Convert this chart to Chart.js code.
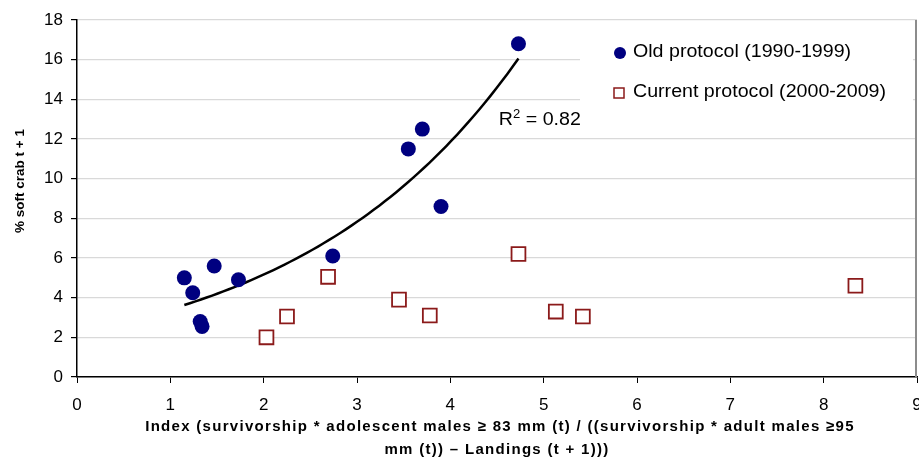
<!DOCTYPE html>
<html>
<head>
<meta charset="utf-8">
<script src="https://cdn.jsdelivr.net/npm/chart.js@4.4.1/dist/chart.umd.min.js"></script>
<style>
  html, body { margin: 0; padding: 0; background: #ffffff; overflow: hidden; }
  #chart { display: block; }
</style>
</head>
<body>
<canvas id="chart" width="919" height="459"></canvas>
<script>
// old protocol (1990-1999)
const oldX = [1.15, 1.24, 1.47, 1.73, 1.32, 1.34, 2.74, 3.55, 3.70, 3.90, 4.73];
const oldY = [5.0, 4.25, 5.6, 4.9, 2.8, 2.55, 6.1, 11.5, 12.5, 8.6, 16.8];
// current protocol (2000-2009)
const curX = [2.03, 2.25, 2.69, 3.45, 3.78, 4.73, 5.13, 5.42, 8.34];
const curY = [2.0, 3.05, 5.05, 3.9, 3.1, 6.2, 3.3, 3.05, 4.6];

const xTicks = [0, 1, 2, 3, 4, 5, 6, 7, 8, 9];
const yTicks = [0, 2, 4, 6, 8, 10, 12, 14, 16, 18];

const seriesLabels = ['Old protocol (1990-1999)', 'Current protocol (2000-2009)'];
const xTitle = ['Index (survivorship * adolescent males \u2265 83 mm (t) / ((survivorship * adult males \u226595',
                'mm (t)) \u2013 Landings (t + 1)))'];
const yTitle = '% soft crab t + 1';
const r2Text = '0.82';

// exponential trendline fitted on old protocol (least squares on ln y, like excel)
function expFit(xs, ys) {
    const n = xs.length;
    const ly = ys.map(v => Math.log(v));
    const mx = xs.reduce((a, b) => a + b, 0) / n;
    const my = ly.reduce((a, b) => a + b, 0) / n;
    let sxy = 0, sxx = 0;
    for (let i = 0; i < n; i++) {
        sxy += (xs[i] - mx) * (ly[i] - my);
        sxx += (xs[i] - mx) * (xs[i] - mx);
    }
    const b = sxy / sxx;
    return { a: Math.exp(my - b * mx), b: b };
}
const fit = expFit(oldX, oldY);
const xMin = Math.min(...oldX), xMax = Math.max(...oldX);
const trend = [];
for (let i = 0; i <= 60; i++) {
    const x = xMin + (xMax - xMin) * i / 60;
    trend.push({ x: x, y: fit.a * Math.exp(fit.b * x) });
}

const navy = '#000080';
const darkRed = '#8b1a1a';
const FONT = '"Liberation Sans", Arial, sans-serif';

const toPts = (xs, ys) => xs.map((x, i) => ({ x: x, y: ys[i] }));

// draws text stretched horizontally, the original picture is a bit wide
function wideText(c, txt, x, y, sx) {
    c.save();
    c.translate(x, y);
    c.scale(sx, 1);
    c.fillText(txt, 0, 0);
    c.restore();
    return c.measureText(txt).width * sx;
}

// the original plot runs to the right edge, "9" gets cut off
const stretchRight = {
    id: 'stretchRight',
    afterLayout(chart) {
        const sx = chart.scales.x;
        const right = chart.width - 2;
        sx.right = right;
        sx.width = right - sx.left;
        sx.configure();
        const a = chart.chartArea;
        chart.chartArea = { left: a.left, top: a.top, right: right, bottom: a.bottom, width: right - a.left, height: a.height };
    }
};

const overlay = {
    id: 'overlay',
    beforeDatasetsDraw(chart) {
        const c = chart.ctx;
        const area = chart.chartArea;
        // legend box hides the grid
        c.save();
        c.fillStyle = '#ffffff';
        c.fillRect(580, area.top + 1, area.right - 584, 115);
        c.restore();
    },
    afterDraw(chart) {
        const c = chart.ctx;
        const xs = chart.scales.x, ys = chart.scales.y;
        const area = chart.chartArea;
        c.save();
        // right border
        c.strokeStyle = '#8c8c8c';
        c.lineWidth = 2;
        c.beginPath();
        c.moveTo(area.right - 1, area.top);
        c.lineTo(area.right - 1, area.bottom);
        c.stroke();

        c.fillStyle = '#000';
        c.textBaseline = 'middle';
        c.font = '18px ' + FONT;
        // legend
        c.beginPath();
        c.arc(620, 53, 6, 0, Math.PI * 2);
        c.fillStyle = navy;
        c.fill();
        c.fillStyle = '#000';
        wideText(c, seriesLabels[0], 633, 52, 1.09);
        c.fillStyle = '#fff';
        c.fillRect(614, 88, 10, 10);
        c.strokeStyle = darkRed;
        c.lineWidth = 1.5;
        c.strokeRect(614, 88, 10, 10);
        c.fillStyle = '#000';
        wideText(c, seriesLabels[1], 633, 92, 1.09);

        // R^2 label
        const r2x = xs.getPixelForValue(4.52);
        const r2y = ys.getPixelForValue(12.7);
        c.textBaseline = 'alphabetic';
        let w = wideText(c, 'R', r2x, r2y, 1.09);
        c.font = '12px ' + FONT;
        w += wideText(c, '2', r2x + w, r2y - 7, 1.09);
        c.font = '18px ' + FONT;
        wideText(c, ' = ' + r2Text, r2x + w, r2y, 1.09);

        // y title
        c.font = 'bold 13.5px ' + FONT;
        c.textAlign = 'center';
        c.textBaseline = 'middle';
        c.translate(20, 181);
        c.rotate(-Math.PI / 2);
        c.fillText(yTitle, 0, 0);
        c.restore();

        // x title, letter spaced
        c.save();
        c.font = 'bold 15px ' + FONT;
        c.fillStyle = '#000';
        c.textAlign = 'center';
        c.textBaseline = 'middle';
        c.letterSpacing = '1.3px';
        c.fillText(xTitle[0], 500, 427);
        c.fillText(xTitle[1], 497, 450);
        c.restore();
    }
};

new Chart(document.getElementById('chart'), {
    type: 'scatter',
    data: {
        datasets: [
            {
                label: 'trend',
                type: 'line',
                data: trend,
                borderColor: '#000',
                borderWidth: 2.5,
                pointRadius: 0,
                fill: false,
                tension: 0,
                order: 3
            },
            {
                label: seriesLabels[0],
                data: toPts(oldX, oldY),
                pointStyle: 'circle',
                pointRadius: 7.5,
                backgroundColor: navy,
                borderColor: navy,
                borderWidth: 0,
                order: 1
            },
            {
                label: seriesLabels[1],
                data: toPts(curX, curY),
                pointStyle: 'rect',
                pointRadius: 9.8,
                backgroundColor: '#ffffff',
                borderColor: darkRed,
                borderWidth: 1.8,
                order: 2
            }
        ]
    },
    options: {
        responsive: false,
        animation: false,
        devicePixelRatio: 1,
        layout: { padding: { top: 20, right: 2, left: 0, bottom: 0 } },
        plugins: {
            legend: { display: false },
            tooltip: { enabled: false }
        },
        scales: {
            x: {
                type: 'linear',
                min: 0,
                max: 9,
                afterBuildTicks: s => { s.ticks = xTicks.map(v => ({ value: v })); },
                afterFit: s => { s.height = 82; },
                border: { color: '#000', width: 1.5 },
                grid: {
                    color: 'rgba(0,0,0,0)',
                    tickColor: '#000',
                    tickLength: 6,
                    lineWidth: 1
                },
                ticks: {
                    color: '#000',
                    padding: 12,
                    font: { family: FONT, size: 17 }
                }
            },
            y: {
                type: 'linear',
                min: 0,
                max: 18,
                afterBuildTicks: s => { s.ticks = yTicks.map(v => ({ value: v })); },
                afterFit: s => { s.width = 77; },
                border: { color: '#000', width: 1.5 },
                grid: {
                    color: '#d9d9d9',
                    tickColor: '#000',
                    tickLength: 6,
                    lineWidth: 1.2
                },
                ticks: {
                    color: '#000',
                    padding: 8,
                    font: { family: FONT, size: 17 }
                }
            }
        }
    },
    plugins: [stretchRight, overlay]
});
</script>
</body>
</html>
